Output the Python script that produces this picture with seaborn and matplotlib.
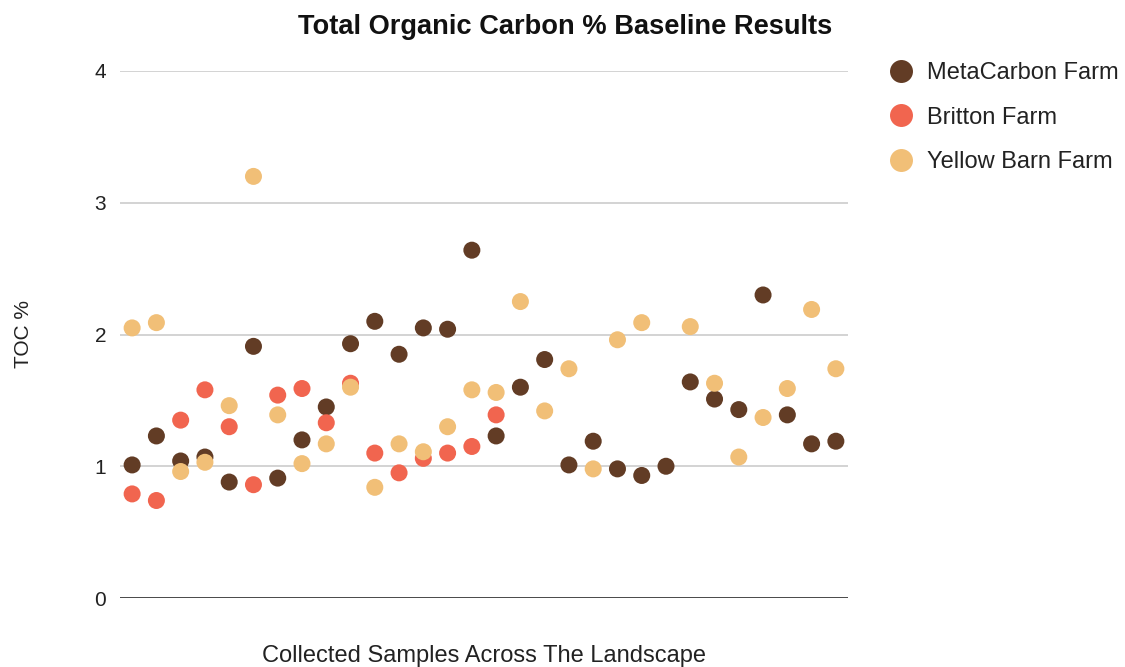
import numpy as np
import pandas as pd
import seaborn as sns
import matplotlib.pyplot as plt

nan = np.nan

# TOC % per sample position
metacarbon = [1.01, 1.23, 1.04, 1.07, 0.88, 1.91, 0.91, 1.20, 1.45, 1.93,
              2.10, 1.85, 2.05, 2.04, 2.64, 1.23, 1.60, 1.81, 1.01, 1.19,
              0.98, 0.93, 1.00, 1.64, 1.51, 1.43, 2.30, 1.39, 1.17, 1.19]
britton = [0.79, 0.74, 1.35, 1.58, 1.30, 0.86, 1.54, 1.59, 1.33, 1.63,
           1.10, 0.95, 1.06, 1.10, 1.15, 1.39]
yellow_barn = [2.05, 2.09, 0.96, 1.03, 1.46, 3.20, 1.39, 1.02, 1.17, 1.60,
               0.84, 1.17, 1.11, 1.30, 1.58, 1.56, 2.25, 1.42, 1.74, 0.98,
               1.96, 2.09, nan, 2.06, 1.63, 1.07, 1.37, 1.59, 2.19, 1.74]

farms = ["MetaCarbon Farm", "Britton Farm", "Yellow Barn Farm"]
colors = ["#623c25", "#f1654f", "#f1bf77"]

frames = []
for name, vals in zip(farms, [metacarbon, britton, yellow_barn]):
    frames.append(pd.DataFrame({"sample": np.arange(len(vals)), "toc": vals, "farm": name}))
df = pd.concat(frames).dropna()

sns.set_style("white")
plt.rcParams["font.family"] = ["Liberation Sans", "DejaVu Sans"]

fig = plt.figure(figsize=(11.25, 6.67), dpi=100)
ax = fig.add_axes([120 / 1125, 1 - 598 / 667, 728 / 1125, 527 / 667])

sns.scatterplot(data=df, x="sample", y="toc", hue="farm", hue_order=farms,
                palette=colors, s=150, linewidth=0, alpha=1, ax=ax, zorder=3)

ax.set_xlim(-0.5, 29.5)
ax.set_ylim(0, 4)
ax.set_yticks([0, 1, 2, 3, 4])
ax.set_xticks([])
ax.set_xlabel("")
ax.grid(axis="y", color="#cccccc", lw=1.2)
ax.axhline(0, color="#333333", lw=1.2, zorder=2)
for s in ax.spines.values():
    s.set_visible(False)
ax.tick_params(axis="y", length=0, pad=10, labelsize=15, labelcolor="#222222")

ax.set_ylabel("TOC %", fontsize=15, labelpad=44, color="#222222")
fig.text(484 / 1125, 1 - 656 / 667, "Collected Samples Across The Landscape", ha="center", va="center",
         fontsize=17, color="#222222")
fig.text(0.502, 1 - 27 / 667, "Total Organic Carbon % Baseline Results", ha="center", va="center",
         fontsize=19.6, fontweight="bold", color="#111111")

handles, labels = ax.get_legend_handles_labels()
ax.get_legend().remove()
fig.legend(handles, labels, loc="upper left", bbox_to_anchor=(889 / 1125, 1 - 62 / 667),
           bbox_transform=fig.transFigure, frameon=False, fontsize=17, markerscale=1.35,
           handlelength=1.0, handletextpad=0.6, labelspacing=0.96, borderpad=0,
           borderaxespad=0, labelcolor="#222222")

fig.savefig("out.png", dpi=100)
